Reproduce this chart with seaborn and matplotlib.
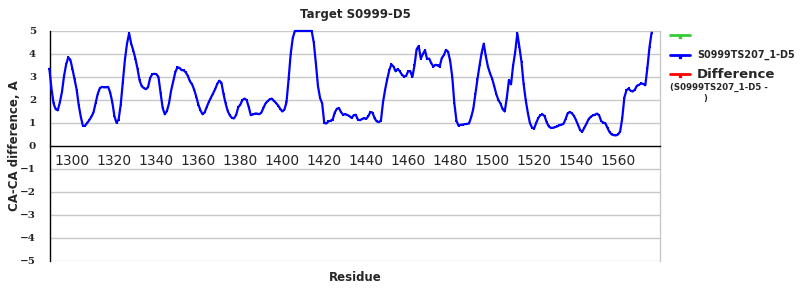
import numpy as np
import pandas as pd
import matplotlib
matplotlib.use("Agg")
import matplotlib.pyplot as plt
from matplotlib.lines import Line2D
import seaborn as sns

title = "Target S0999-D5"
xlabel = "Residue"
ylabel = "CA-CA difference, A"
series_name = "S0999TS207_1-D5"
diff_name = "Difference"
diff_sub = "(S0999TS207_1-D5 -"
diff_sub2 = ")"

first_residue = 1289
last_residue = 1576
ca_diff = [
    3.36, 2.5, 1.85, 1.6, 1.55, 1.9, 2.35, 3.05, 3.55, 3.85,
    3.75, 3.35, 2.9, 2.45, 1.77, 1.26, 0.87, 0.88, 1.0, 1.12,
    1.27, 1.45, 1.85, 2.25, 2.5, 2.57, 2.55, 2.55, 2.57, 2.32,
    1.9, 1.3, 1.01, 1.15, 1.8, 2.75, 3.75, 4.45, 4.9, 4.45,
    4.15, 3.8, 3.36, 2.85, 2.6, 2.52, 2.47, 2.55, 2.95, 3.12,
    3.14, 3.12, 3.0, 2.3, 1.65, 1.38, 1.52, 1.85, 2.4, 2.8,
    3.2, 3.42, 3.4, 3.3, 3.29, 3.2, 3.05, 2.81, 2.68, 2.45,
    2.15, 1.8, 1.55, 1.38, 1.46, 1.7, 1.92, 2.1, 2.27, 2.47,
    2.7, 2.84, 2.75, 2.25, 1.85, 1.52, 1.33, 1.22, 1.2, 1.35,
    1.68, 1.8, 2.0, 2.06, 2.0, 1.7, 1.34, 1.37, 1.41, 1.41,
    1.38, 1.45, 1.65, 1.85, 1.95, 2.03, 2.06, 1.96, 1.87, 1.76,
    1.62, 1.5, 1.58, 1.9, 2.9, 4.0, 4.7, 5.0, 5.0, 5.0,
    5.0, 5.0, 5.0, 5.0, 5.0, 5.0, 4.5, 3.6, 2.6, 2.09,
    1.85, 1.0, 0.98, 1.07, 1.1, 1.15, 1.45, 1.62, 1.65, 1.47,
    1.36, 1.38, 1.35, 1.3, 1.22, 1.33, 1.36, 1.15, 1.12, 1.17,
    1.21, 1.18, 1.3, 1.48, 1.45, 1.2, 1.07, 1.04, 1.1, 1.9,
    2.45, 2.9, 3.3, 3.55, 3.45, 3.25, 3.35, 3.25, 3.1, 3.02,
    3.05, 3.25, 3.25, 3.0, 3.5, 4.2, 4.35, 3.8, 4.0, 4.16,
    3.78, 3.8, 3.6, 3.45, 3.53, 3.5, 3.45, 3.82, 3.95, 4.18,
    4.1, 3.7, 3.0, 1.85, 1.1, 0.88, 0.92, 0.93, 0.95, 0.96,
    0.98, 1.25, 1.6, 2.25, 2.9, 3.5, 4.05, 4.45, 3.9, 3.45,
    3.16, 2.93, 2.6, 2.25, 2.0, 1.84, 1.6, 1.5, 2.1, 2.86,
    2.68, 3.5, 4.09, 4.9, 4.3, 3.65, 2.7, 2.0, 1.45, 1.0,
    0.8, 0.76, 1.0, 1.22, 1.34, 1.37, 1.3, 1.03, 0.85, 0.79,
    0.79, 0.82, 0.85, 0.9, 0.93, 0.96, 1.17, 1.42, 1.48, 1.42,
    1.31, 1.12, 0.9, 0.68, 0.63, 0.8, 0.98, 1.17, 1.27, 1.33,
    1.36, 1.41, 1.33, 1.08, 1.02, 0.98, 0.78, 0.6, 0.5, 0.47,
    0.46, 0.5, 0.63, 1.2, 2.1, 2.42, 2.5, 2.4, 2.37, 2.45,
    2.62, 2.66, 2.72, 2.7, 2.64, 3.4, 4.3, 4.93,
]
residues = np.arange(first_residue, last_residue + 1)
x_major = list(range(1300, 1561, 20))
x_minor = list(range(1290, 1581, 10))
y_ticks = list(range(-5, 6))

sns.set_style("white")
plt.rcParams["font.family"] = ["DejaVu Sans"]

df = pd.DataFrame({"Residue": residues, "diff": ca_diff})

fig = plt.figure(figsize=(8, 3), dpi=100)
ax = fig.add_axes([0.0625, 0.13, 0.7625, 0.7667])

sns.lineplot(data=df, x="Residue", y="diff", ax=ax, color="#0000ff",
             linewidth=1.6, marker="s", markersize=1.8, markeredgewidth=0,
             errorbar=None, clip_on=False, zorder=5)

ax.set_xlim(1289.3, 1580)
ax.set_ylim(-5, 5)

ax.set_yticks(y_ticks)
ax.set_yticklabels([str(v).replace("-", "\u2212") for v in y_ticks],
                   fontfamily="DejaVu Serif", fontweight="bold", fontsize=7.5)
ax.tick_params(axis="y", length=0, pad=10)
for v in y_ticks:
    if v != 0:
        ax.axhline(v, color="#c8c8c8", linewidth=1, zorder=1)

ax.set_xticks(x_major)
ax.set_xticks(x_minor, minor=True)
ax.set_xticklabels([str(v) for v in x_major], fontweight="bold", fontsize=6.3)
ax.tick_params(axis="x", which="both", direction="out", length=3,
               color="#a0a0a0", width=0.8, pad=3)

ax.spines["bottom"].set_position(("data", 0))
ax.spines["bottom"].set_color("black")
ax.spines["bottom"].set_linewidth(1)
ax.spines["left"].set_color("black")
ax.spines["left"].set_linewidth(1)
ax.spines["top"].set_visible(False)
ax.spines["right"].set_color("#c8c8c8")
ax.spines["right"].set_linewidth(1)

ax.set_xlabel(xlabel, fontweight="bold", fontsize=8.5)
ax.xaxis.set_label_coords(0.5, -0.045)
ax.set_ylabel(ylabel, fontweight="bold", fontsize=8.5)
ax.yaxis.set_label_coords(-0.048, 0.5)
ax.set_title(title, fontweight="bold", fontsize=8.5, pad=9)

# legend (figure coordinates)
lx0, lx1 = 0.8375, 0.8625
for yy, col in [(0.883, "#33cc33"), (0.817, "#0000ff"), (0.753, "#ff0000")]:
    fig.add_artist(Line2D([lx0, lx1], [yy, yy], color=col, linewidth=2,
                          transform=fig.transFigure))
    fig.add_artist(Line2D([(lx0 + lx1) / 2], [yy - 0.006], color=col,
                          marker="s", markersize=1.8, linestyle="none",
                          transform=fig.transFigure))
fig.text(0.871, 0.817, series_name, fontweight="bold", fontsize=6.9,
         va="center", ha="left")
fig.text(0.871, 0.753, diff_name, fontweight="bold", fontsize=9.5,
         va="center", ha="left")
fig.text(0.838, 0.707, diff_sub, fontweight="bold", fontsize=6.2,
         va="center", ha="left")
fig.text(0.881, 0.672, diff_sub2, fontweight="bold", fontsize=6.2,
         va="center", ha="center")

fig.savefig("out.png", dpi=100)
